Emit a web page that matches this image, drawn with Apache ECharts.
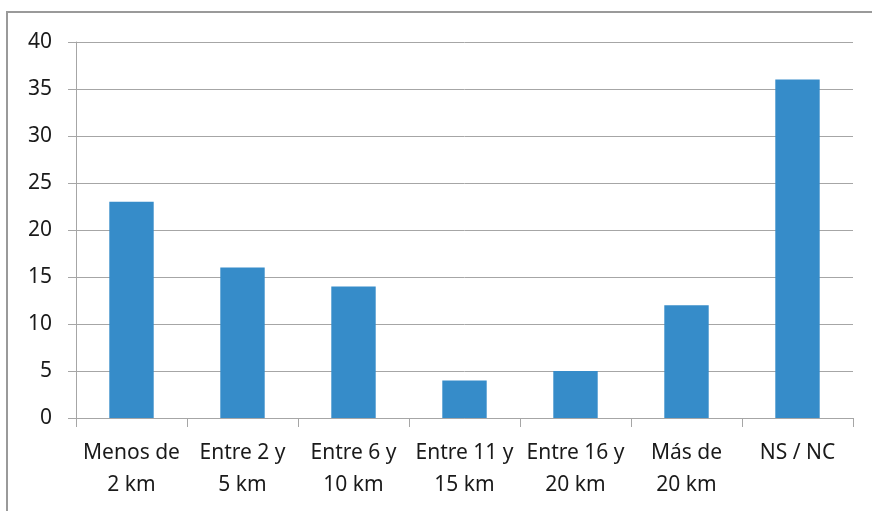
<!DOCTYPE html>
<html>
<head>
<meta charset="utf-8">
<script src="https://cdn.jsdelivr.net/npm/echarts@6/dist/echarts.min.js"></script>
<style>
  html, body { margin: 0; padding: 0; background: #fff; }
  #main { width: 872px; height: 511px; }
</style>
</head>
<body>
<div id="main"></div>
<script>
// distance categories and counts
const categories = ['Menos de\n2 km', 'Entre 2 y\n5 km', 'Entre 6 y\n10 km', 'Entre 11 y\n15 km', 'Entre 16 y\n20 km', 'Más de\n20 km', 'NS / NC'];
const values = [23, 16, 14, 4, 5, 12, 36];

const chart = echarts.init(document.getElementById('main'));
const font = 'Noto Sans';

chart.setOption({
    animation: false,
    graphic: [{
        type: 'rect',
        shape: { x: 7, y: 12, width: 900, height: 600 },
        style: { fill: 'none', stroke: '#9a9a9a', lineWidth: 2 }
    }],
    grid: { left: 76, right: 19, top: 42, bottom: 93 },
    xAxis: {
        type: 'category',
        data: categories,
        axisLine: { lineStyle: { color: '#a6a6a6', width: 1 } },
        axisTick: { show: true, length: 9, lineStyle: { color: '#a6a6a6' } },
        axisLabel: {
            color: '#1a1a1a',
            fontFamily: font,
            fontSize: 21,
            lineHeight: 32,
            margin: 19,
            interval: 0
        }
    },
    yAxis: {
        type: 'value',
        min: 0,
        max: 40,
        interval: 5,
        axisLine: { show: true, lineStyle: { color: '#a6a6a6', width: 1 } },
        axisTick: { show: true, length: 8, lineStyle: { color: '#a6a6a6' } },
        splitLine: { lineStyle: { color: '#a6a6a6', width: 1 } },
        axisLabel: { color: '#1a1a1a', fontFamily: font, fontSize: 21, margin: 24 }
    },
    series: [{
        type: 'bar',
        data: values,
        barWidth: '40%',
        itemStyle: { color: '#368cc9' }
    }]
});
</script>
</body>
</html>
